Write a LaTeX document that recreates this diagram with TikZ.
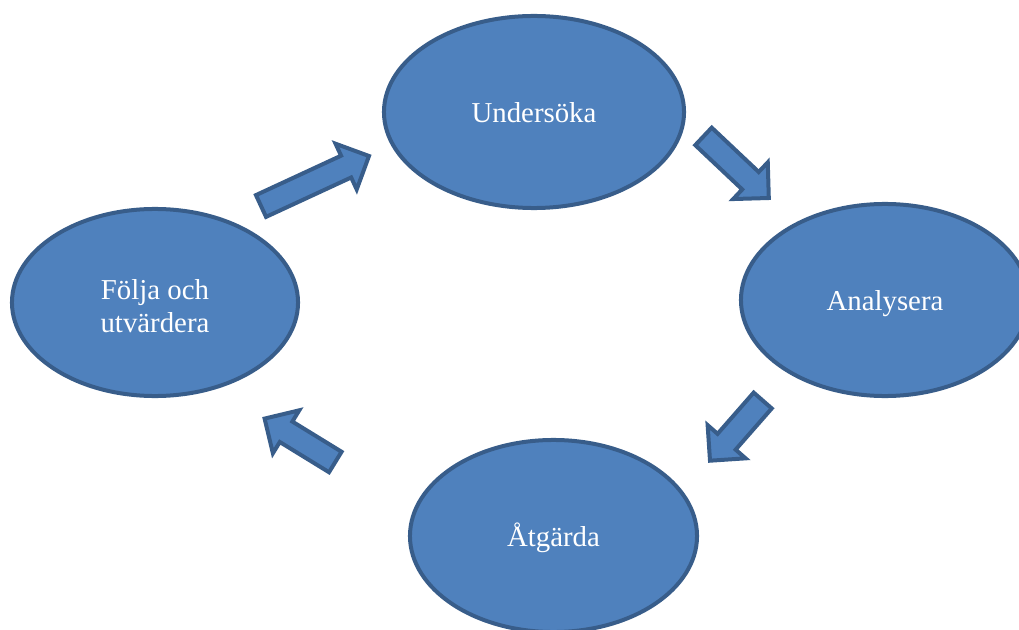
\documentclass[tikz,border=0pt]{standalone}
\usepackage{fontspec}
\setmainfont{Liberation Serif}
\usetikzlibrary{shapes.geometric,calc}

\definecolor{stagefill}{HTML}{4F81BD}
\definecolor{stageline}{HTML}{385D8A}

\newcommand{\arrowsw}{0.3cm}   % half shaft
\newcommand{\arrowhw}{0.63cm}  % half head
\newcommand{\arrowhl}{0.63cm}  % head length
\newcommand{\blockarrow}[2]{%
	\path (#1) coordinate (ba-s) (#2) coordinate (ba-e);
	\path ($(ba-e)!\arrowhl!(ba-s)$) coordinate (ba-b);
	\draw[arrowbody] ($(ba-s)!\arrowsw!90:(ba-e)$) -- ($(ba-b)!\arrowsw!-90:(ba-s)$)
		-- ($(ba-b)!\arrowhw!-90:(ba-s)$) -- (ba-e) -- ($(ba-b)!\arrowhw!90:(ba-s)$)
		-- ($(ba-b)!\arrowsw!90:(ba-s)$) -- ($(ba-s)!\arrowsw!-90:(ba-e)$) -- cycle;
}
\newcommand{\topstrut}{\rule{0pt}{0.95em}}

\begin{document}
\begin{tikzpicture}[x=0.025cm, y=-0.025cm,
		stage/.style={ellipse, draw=stageline, fill=stagefill, line width=0.1cm,
			inner sep=0pt, text=white, align=center,
			font=\fontsize{20.5}{23.6}\selectfont},
		oneline/.style={text height=19.5pt, text depth=4.1pt},
		arrowbody/.style={draw=stageline, fill=stagefill, line width=0.1cm, line join=miter}]
	\useasboundingbox (0,0) rectangle (1019,630);

	% the four steps
	\node[stage, oneline, minimum width=7.5cm, minimum height=4.8cm] (und) at (534,112) {Undersöka};
	\node[stage, oneline, minimum width=7.2cm, minimum height=4.8cm] (ana) at (885,300) {Analysera};
	\node[stage, oneline, minimum width=7.175cm, minimum height=4.8cm] (atg) at (553.5,536) {Åtgärda};
	\node[stage, minimum width=7.15cm, minimum height=4.675cm] (fol) at (155,302.5)
		{\topstrut Följa och\\utvärdera};

	% arrow ends
	\coordinate (a1s) at (261,206);   \coordinate (a1e) at (369,156);
	\coordinate (a2s) at (703.5,136.4); \coordinate (a2e) at (768.8,198);
	\coordinate (a3s) at (762.7,400.5); \coordinate (a3e) at (710,460.7);
	\coordinate (a4s) at (335.3,462); \coordinate (a4e) at (264.6,418.6);

	\blockarrow{a1s}{a1e}
	\blockarrow{a2s}{a2e}
	\blockarrow{a3s}{a3e}
	\blockarrow{a4s}{a4e}
\end{tikzpicture}
\end{document}
